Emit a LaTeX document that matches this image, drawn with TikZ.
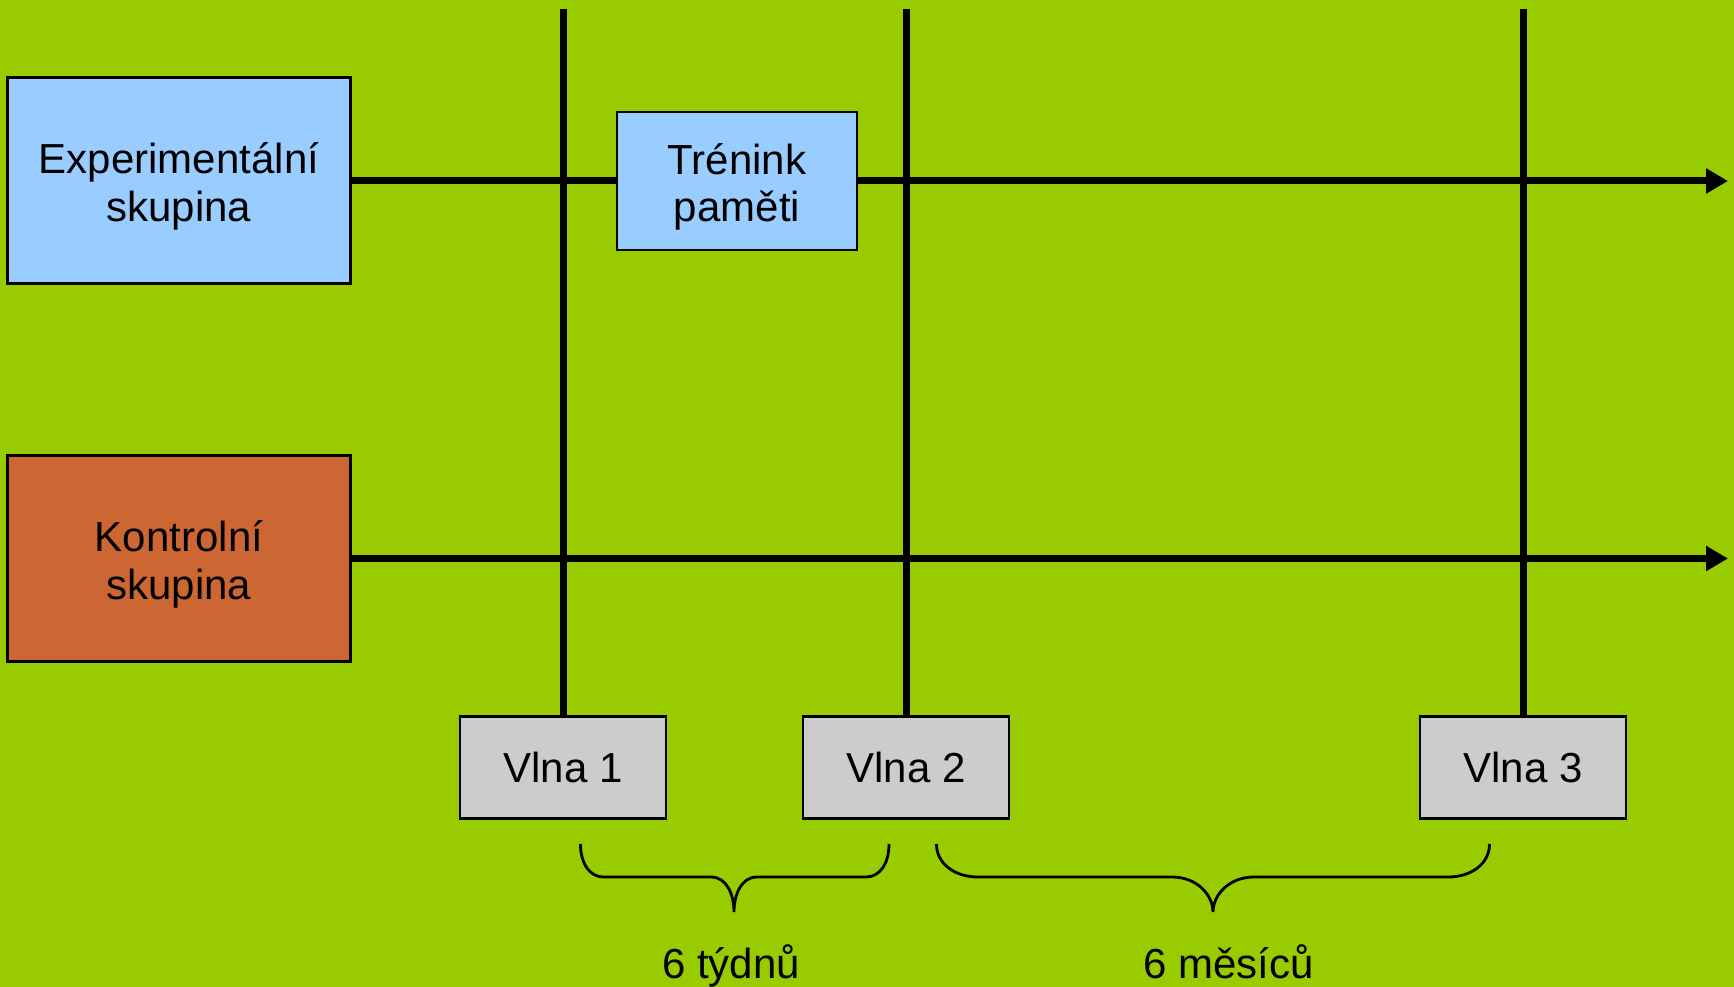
\documentclass[tikz,border=0pt]{standalone}
\usepackage{fontspec}
\setmainfont{Liberation Sans}
\usetikzlibrary{arrows.meta}
\definecolor{bg}{HTML}{99CC00}
\definecolor{blueish}{HTML}{99CCFF}
\definecolor{rust}{HTML}{CC6633}
\definecolor{greybox}{HTML}{CCCCCC}
\tikzset{
  box/.style={draw=black, line width=2.5pt, align=center, inner sep=0pt,
    font=\fontsize{42}{47.5}\selectfont},
  groupbox/.style={box, minimum width=343pt, minimum height=206pt},
  trainbox/.style={box, fill=blueish, minimum width=240pt, minimum height=138pt},
  wavebox/.style={box, fill=greybox, minimum width=206pt, minimum height=102pt},
  boxtext/.style={align=center, inner sep=0pt, font=\fontsize{42}{47.5}\selectfont},
  timeline/.style={line width=7pt, -{Triangle[length=22pt,width=24pt]}},
  thickline/.style={line width=7pt},
  bracepath/.style={line width=2.8pt},
  label/.style={font=\fontsize{42}{46.5}\selectfont, anchor=base}
}
\begin{document}
\begin{tikzpicture}[x=1pt,y=-1pt]
  \fill[bg] (0,0) rectangle (1734,987);
  \useasboundingbox (0,0) rectangle (1734,987);

  % measurement waves
  \node[wavebox] (w1) at (563,767.5) {Vlna 1};
  \node[wavebox] (w2) at (906,767.5) {Vlna 2};
  \node[wavebox] (w3) at (1523,767.5) {Vlna 3};

  % vertical wave markers
  \coordinate (t1) at (563,9);
  \coordinate (t2) at (906,9);
  \coordinate (t3) at (1523,9);
  \draw[thickline] (t1) -- (w1.north);
  \draw[thickline] (t2) -- (w2.north);
  \draw[thickline] (t3) -- (w3.north);

  % group boxes and training block
  \node[groupbox, fill=blueish] (exp) at (179,180.3) {};
  \node[groupbox, fill=rust] (ctrl) at (179,558.5) {};
  \node[trainbox] (train) at (737,181) {};
  \node[boxtext] (expt) at ([yshift=-6pt]exp.center) {Experimentální\\skupina};
  \node[boxtext] (ctrlt) at ([yshift=-6pt]ctrl.center) {Kontrolní\\skupina};
  \node[boxtext] (traint) at ([yshift=-6pt]train.center) {Trénink\\paměti};

  % time lines
  \coordinate (endA) at (1728,181);
  \coordinate (endB) at (1728,558.5);
  \draw[thickline] (exp.east |- train.west) -- (train.west);
  \draw[timeline] (train.east) -- (endA);
  \draw[timeline] (ctrl.east) -- (endB);

  % braces
  \draw[bracepath] (580.5,844) .. controls (580.5,864) and (590,877) .. (603.5,877)
     -- (711,877) .. controls (727,877) and (734,895) .. (734,912)
     .. controls (734,895) and (741,877) .. (757,877)
     -- (866,877) .. controls (879.5,877) and (889,864) .. (889,844);
  \draw[bracepath] (936.5,844) .. controls (936.5,864) and (955,877) .. (978,877)
     -- (1172,877) .. controls (1197,877) and (1213,895) .. (1213,912)
     .. controls (1213,895) and (1229,877) .. (1254,877)
     -- (1448,877) .. controls (1471,877) and (1489.5,864) .. (1489.5,844);

  \node[label] (d1) at (731,978) {6 týdnů};
  \node[label] (d2) at (1228.5,978) {6 měsíců};
\end{tikzpicture}
\end{document}
